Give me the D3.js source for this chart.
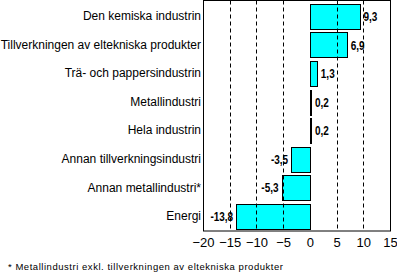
<!DOCTYPE html>
<html><head><meta charset="utf-8">
<script src="https://cdn.jsdelivr.net/npm/d3@7"></script>
<style>body{margin:0;background:#fff}svg{display:block}</style>
</head><body>
<script>
const categories = ["Den kemiska industrin","Tillverkningen av eltekniska produkter","Trä- och pappersindustrin","Metallindustri","Hela industrin","Annan tillverkningsindustri","Annan metallindustri*","Energi"];
const values = [9.3, 6.9, 1.3, 0.2, 0.2, -3.5, -5.3, -13.8];
const valueLabels = ["9,3","6,9","1,3","0,2","0,2","-3,5","-5,3","-13,8"];
const xTicks = [-20,-15,-10,-5,0,5,10,15];
const gridTicks = [-15,-10,-5,5,10];
const footnote = "* Metallindustri exkl. tillverkningen av eltekniska produkter";

const W = 397, H = 274;
const L = 203, R = 390, T = 0.5, B = 231;
const svg = d3.select("body").append("svg").attr("width", W).attr("height", H);

const x = d3.scaleLinear().domain([-20, 15]).range([L, R]);
const y = d3.scaleBand().domain(categories).range([T + 1, B]).paddingInner(0.13).paddingOuter(0.08);

// bars
svg.append("g").selectAll("rect").data(values).join("rect")
  .attr("x", d => Math.round(x(Math.min(0, d))) + 0.5)
  .attr("y", (d, i) => Math.round(y(categories[i])) + 0.5)
  .attr("width", d => Math.max(1, Math.round(Math.abs(x(d) - x(0)))))
  .attr("height", Math.round(y.bandwidth()))
  .attr("fill", "#00ffff").attr("stroke", "#000").attr("stroke-width", 1);

// grid
svg.append("g").selectAll("line").data(gridTicks).join("line")
  .attr("x1", d => Math.round(x(d)) + 0.5).attr("x2", d => Math.round(x(d)) + 0.5)
  .attr("y1", T).attr("y2", B)
  .attr("stroke", "#000").attr("stroke-width", 1).attr("stroke-dasharray", "4,3");

// frame
svg.append("rect").attr("x", L + 0.5).attr("y", T).attr("width", R - L).attr("height", B - T)
  .attr("fill", "none").attr("stroke", "#000").attr("stroke-width", 1);

// x axis labels
const xAxis = d3.axisBottom(x).tickValues(xTicks).tickSize(0).tickPadding(7);
const gx = svg.append("g").attr("transform", `translate(0,${B})`).call(xAxis);
gx.select(".domain").remove();
gx.selectAll("text").attr("font-family", "Liberation Sans, Arial, sans-serif").attr("font-size", 13).attr("fill", "#000");

// category labels
const yAxis = d3.axisLeft(y).tickSize(0).tickPadding(2);
const gy = svg.append("g").attr("transform", `translate(${L},0)`).call(yAxis);
gy.select(".domain").remove();
gy.selectAll("text").attr("font-family", "Liberation Sans, Arial, sans-serif").attr("font-size", 12).attr("fill", "#000");

// value labels (condensed bold)
svg.append("g").selectAll("text").data(values).join("text")
  .attr("transform", (d, i) => `translate(${d >= 0 ? x(d) + 4 : x(d) - 3},${y(categories[i]) + y.bandwidth() / 2}) scale(0.8,1)`)
  .attr("dy", "0.38em")
  .attr("text-anchor", d => d >= 0 ? "start" : "end")
  .attr("font-family", "Liberation Sans, Arial, sans-serif")
  .attr("font-weight", "bold").attr("font-size", 12.5)
  .text((d, i) => valueLabels[i]);

// footnote
svg.append("text").attr("x", 8).attr("y", 270)
  .attr("font-family", "Liberation Sans, Arial, sans-serif").attr("font-size", 9.5)
  .attr("textLength", 275).attr("lengthAdjust", "spacing")
  .text(footnote);
</script>
</body></html>
